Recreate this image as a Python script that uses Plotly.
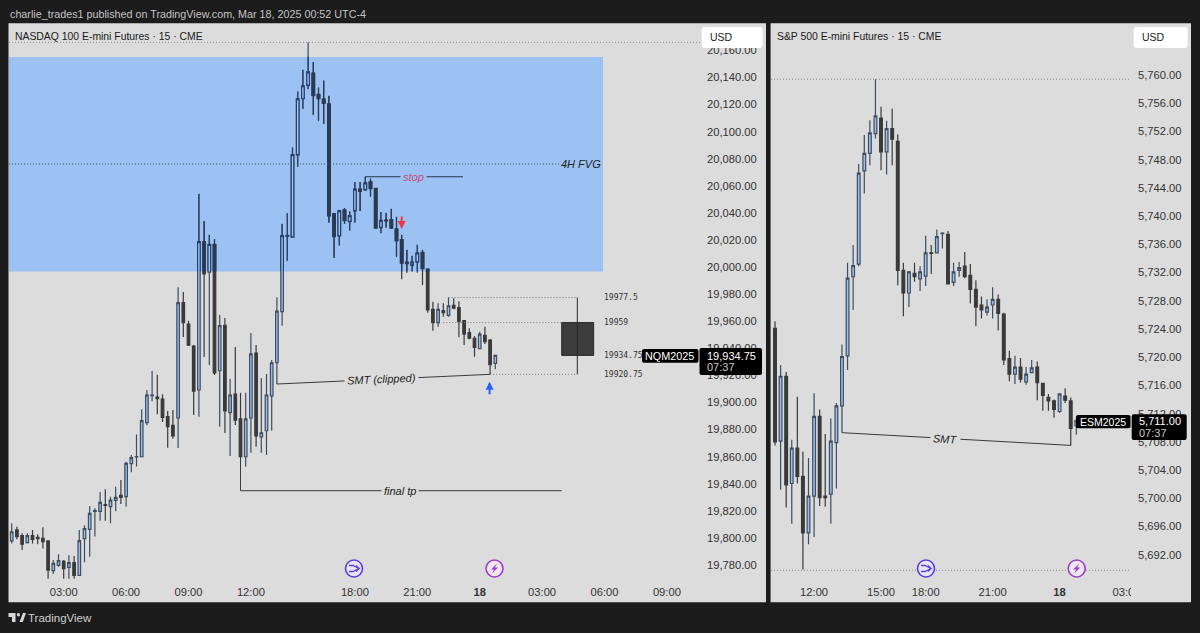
import plotly.graph_objects as go

# NQ 15-minute bars, indexed from the first bar on the chart
nq_open = [
    19797.7, 19805.8, 19801.6, 19796.4, 19801.6, 19800.4, 19799.6, 19797.7, 19775.7, 19779.7,
    19782.6, 19778.2, 19781.7, 19772.3, 19799.4, 19806.3, 19819.6, 19819.6, 19824.5, 19823.0,
    19827.7, 19831.4, 19830.4, 19854.8, 19859.7, 19859.9, 19885.1, 19905.0, 19904.0, 19902.5,
    19889.5, 19883.1, 19888.5, 19973.7, 19957.9, 19941.7, 19909.2, 20018.5, 19996.3, 20016.5,
    19923.4, 19957.0, 19892.4, 19906.2, 19887.8, 19859.9, 19888.5, 19936.5, 19874.5, 19879.1,
    19904.8, 19929.3, 19967.0, 20022.6, 20022.0, 20082.8, 20124.3, 20134.2, 20143.1, 20127.3,
    20123.9, 20120.4, 20039.2, 20023.0, 20042.1, 20033.5, 20041.4, 20057.4, 20056.9, 20062.8,
    20057.9, 20029.1, 20034.5, 20034.8, 20027.9, 20020.0, 20003.5, 20001.3, 20003.7, 20010.6,
    19998.3, 19968.8, 19958.9, 19967.8, 19964.3, 19971.7, 19970.0, 19960.4, 19951.5, 19947.4,
    19939.7, 19949.6, 19946.1, 19928.9,
]
nq_high = [
    19810.7, 19808.2, 19803.3, 19803.3, 19805.8, 19802.6, 19807.8, 19797.7, 19783.6, 19787.8,
    19783.6, 19787.1, 19786.6, 19805.8, 19809.2, 19823.5, 19821.8, 19833.8, 19835.8, 19830.4,
    19837.8, 19842.7, 19856.2, 19861.2, 19876.4, 19894.9, 19909.2, 19923.2, 19920.5, 19906.0,
    19893.7, 19894.4, 19985.0, 19981.6, 19960.4, 19942.5, 20054.0, 20033.8, 20023.7, 20020.5,
    19964.6, 19962.4, 19917.3, 19941.0, 19907.2, 19907.2, 19951.3, 19942.4, 19918.0, 19921.0,
    19931.3, 19977.6, 20031.8, 20039.7, 20088.1, 20129.5, 20145.5, 20166.0, 20151.2, 20132.5,
    20137.6, 20126.3, 20039.7, 20042.1, 20043.4, 20040.9, 20062.6, 20062.6, 20066.7, 20065.2,
    20058.4, 20040.4, 20039.9, 20042.9, 20037.0, 20023.7, 20012.6, 20008.2, 20016.3, 20012.6,
    19998.6, 19974.4, 19973.2, 19973.2, 19977.5, 19976.9, 19974.7, 19960.4, 19954.8, 19949.0,
    19952.2, 19955.9, 19946.9, 19935.2,
]
nq_low = [
    19795.9, 19798.9, 19791.0, 19795.9, 19795.9, 19795.2, 19792.2, 19769.8, 19773.3, 19778.7,
    19769.8, 19769.8, 19769.8, 19772.3, 19781.9, 19786.1, 19800.9, 19812.7, 19812.7, 19810.7,
    19819.6, 19825.0, 19823.0, 19848.4, 19852.6, 19859.5, 19883.1, 19900.8, 19891.2, 19885.6,
    19866.6, 19873.2, 19866.3, 19948.3, 19941.7, 19890.7, 19889.5, 19933.6, 19927.6, 19920.2,
    19882.1, 19877.4, 19860.4, 19883.3, 19859.7, 19852.5, 19862.9, 19867.3, 19862.9, 19861.2,
    19879.1, 19913.6, 19956.7, 20004.5, 20022.0, 20074.1, 20116.7, 20131.3, 20112.3, 20108.1,
    20105.7, 20032.8, 20006.7, 20015.8, 20031.8, 20026.8, 20032.8, 20041.4, 20056.2, 20051.9,
    20028.4, 20024.9, 20029.1, 20028.1, 20007.6, 19990.9, 19995.8, 19996.6, 19995.8, 19986.7,
    19966.3, 19953.0, 19955.9, 19963.3, 19963.3, 19968.8, 19948.1, 19942.4, 19946.6, 19933.8,
    19939.2, 19943.2, 19920.75, 19924.5,
]
nq_close = [
    19804.5, 19800.9, 19795.4, 19801.6, 19798.9, 19799.4, 19797.2, 19776.2, 19781.2, 19783.1,
    19777.2, 19781.7, 19772.3, 19797.9, 19806.8, 19818.1, 19820.1, 19826.2, 19824.0, 19827.9,
    19829.9, 19829.9, 19855.0, 19859.2, 19860.0, 19886.5, 19905.5, 19905.4, 19902.8, 19889.0,
    19882.1, 19875.2, 19973.7, 19958.9, 19942.4, 19908.4, 20018.5, 19994.9, 20016.5, 19921.9,
    19956.7, 19893.7, 19905.5, 19887.0, 19859.9, 19887.8, 19935.8, 19875.2, 19877.6, 19905.5,
    19929.3, 19967.5, 20023.0, 20023.2, 20082.8, 20124.1, 20133.7, 20144.0, 20126.5, 20124.3,
    20120.9, 20037.7, 20022.4, 20041.4, 20034.2, 20037.7, 20057.4, 20055.9, 20061.9, 20057.9,
    20028.8, 20034.2, 20034.0, 20028.8, 20019.4, 20002.8, 20002.5, 20003.5, 20010.2, 19998.8,
    19968.3, 19958.9, 19968.8, 19966.3, 19971.4, 19969.7, 19959.6, 19950.5, 19947.4, 19940.7,
    19950.5, 19944.9, 19927.9, 19934.75,
]

# ES bars cover the same session, starting at bar 39 of the NQ sequence
es_first_bar = 39
es_open = [
    5724.1, 5708.1, 5717.3, 5702.1, 5707.1, 5703.1, 5695.1, 5700.3, 5711.6, 5700.3,
    5700.6, 5707.9, 5713.1, 5720.2, 5731.4, 5733.2, 5746.4, 5748.9, 5751.7, 5753.9,
    5749.1, 5752.4, 5750.6, 5732.3, 5729.1, 5731.9, 5731.1, 5731.5, 5734.8, 5734.8,
    5737.5, 5737.4, 5730.6, 5732.3, 5732.9, 5731.6, 5729.6, 5727.4, 5726.4, 5727.4,
    5728.2, 5726.1, 5719.8, 5717.6, 5718.6, 5716.5, 5717.8, 5718.6, 5716.3, 5714.3,
    5713.8, 5712.3, 5714.5, 5713.8, 5710.25,
]
es_high = [
    5725.1, 5718.9, 5717.9, 5708.3, 5714.4, 5706.6, 5705.7, 5714.9, 5712.6, 5709.1,
    5711.3, 5713.5, 5721.8, 5733.4, 5735.9, 5747.4, 5751.5, 5753.6, 5759.4, 5755.5,
    5753.5, 5755.2, 5751.6, 5733.4, 5732.2, 5733.4, 5732.9, 5737.2, 5735.9, 5738.1,
    5737.7, 5737.9, 5733.4, 5733.5, 5734.9, 5733.2, 5730.9, 5728.6, 5728.2, 5729.9,
    5728.9, 5726.3, 5720.9, 5720.2, 5719.9, 5718.6, 5719.6, 5719.4, 5716.3, 5714.8,
    5714.0, 5714.9, 5715.6, 5714.3, 5711.25,
]
es_low = [
    5707.5, 5701.2, 5698.7, 5696.4, 5702.1, 5689.9, 5693.5, 5694.5, 5698.9, 5698.8,
    5696.4, 5701.4, 5709.3, 5718.2, 5726.7, 5732.9, 5743.2, 5747.2, 5751.0, 5746.5,
    5745.9, 5747.2, 5730.2, 5725.8, 5727.1, 5730.7, 5729.4, 5730.1, 5731.8, 5734.7,
    5735.4, 5730.3, 5730.1, 5731.4, 5731.2, 5727.6, 5724.4, 5725.5, 5725.9, 5725.5,
    5723.8, 5718.9, 5716.6, 5716.2, 5716.4, 5716.1, 5717.8, 5713.9, 5712.4, 5712.4,
    5711.4, 5712.1, 5713.5, 5707.5, 5709.0,
]
es_close = [
    5708.0, 5717.3, 5701.9, 5707.1, 5703.1, 5695.1, 5700.3, 5711.6, 5700.1, 5700.1,
    5708.1, 5713.1, 5720.1, 5731.2, 5733.0, 5746.1, 5748.9, 5751.8, 5754.2, 5749.1,
    5752.4, 5750.9, 5732.3, 5729.1, 5732.1, 5731.4, 5732.1, 5734.8, 5734.7, 5737.1,
    5737.6, 5730.4, 5732.1, 5732.7, 5731.4, 5729.6, 5727.1, 5726.7, 5727.1, 5728.2,
    5726.2, 5719.6, 5717.6, 5718.6, 5716.9, 5717.6, 5718.5, 5716.4, 5714.6, 5713.8,
    5712.6, 5714.8, 5713.9, 5709.9, 5711.0,
]

nq_bars = list(range(len(nq_close)))
es_bars = [es_first_bar + i for i in range(len(es_close))]

nq_time_ticks = [10, 22, 34, 46, 66, 78, 90, 102, 114, 126]
nq_time_labels = ["03:00", "06:00", "09:00", "12:00", "18:00", "21:00", "<b>18</b>", "03:00", "06:00", "09:00"]
es_time_ticks = [46, 58, 66, 78, 90, 102]
es_time_labels = ["12:00", "15:00", "18:00", "21:00", "<b>18</b>", "03:00"]
nq_price_ticks = [19780 + 20 * i for i in range(20)]
es_price_ticks = [5692 + 4 * i for i in range(18)]

# Trade levels and drawings on the NQ pane
fvg_top, fvg_bottom, fvg_mid = 20155.1, 19996.7, 20076.1
stop_price = 20066.7
tp_price = 19834.8
trade_high, trade_entry, trade_last, trade_low = 19977.5, 19959.0, 19934.75, 19920.75
nq_peak = 20166.0
es_peak, es_floor = 5759.4, 5689.8

BG = "#1c1c1c"
PANE = "#dcdcdc"
ZONE = "#9bc2f3"
FONT = "Liberation Sans"
UP_FILL, UP_LINE = "#9dbfe9", "#3d4d63"
DOWN = "#3a3a3a"
UP_FILL_Z, UP_LINE_Z = "#a3c7f5", "#24406b"
DOWN_Z = "#2a3a55"
DOTS = "1px,2px"

W, H = 1200.0, 633.0


def fx(x):
    return x / W


def fy(y):
    return 1 - y / H


def rounded(x0, y0, x1, y1, r=3):
    """Closed path for a rounded box given in page pixels."""
    pts = [
        f"M{fx(x0 + r)},{fy(y0)}", f"L{fx(x1 - r)},{fy(y0)}", f"Q{fx(x1)},{fy(y0)} {fx(x1)},{fy(y0 + r)}",
        f"L{fx(x1)},{fy(y1 - r)}", f"Q{fx(x1)},{fy(y1)} {fx(x1 - r)},{fy(y1)}",
        f"L{fx(x0 + r)},{fy(y1)}", f"Q{fx(x0)},{fy(y1)} {fx(x0)},{fy(y1 - r)}",
        f"L{fx(x0)},{fy(y0 + r)}", f"Q{fx(x0)},{fy(y0)} {fx(x0 + r)},{fy(y0)}", "Z",
    ]
    return " ".join(pts)


def poly(points, closed=True):
    head = "M" + " L".join(f"{fx(x)},{fy(y)}" for x, y in points)
    return head + (" Z" if closed else "")


def box(x0, y0, x1, y1, color, layer="below"):
    return dict(type="rect", xref="paper", yref="paper", x0=fx(x0), x1=fx(x1), y0=fy(y0), y1=fy(y1),
                fillcolor=color, line_width=0, layer=layer)


def path(d, fill=None, line=None, width=1.0, layer="above"):
    return dict(type="path", xref="paper", yref="paper", path=d,
                fillcolor=fill or "rgba(0,0,0,0)", line=dict(color=line or "rgba(0,0,0,0)", width=width), layer=layer)


def seg(xref, yref, x0, y0, x1, y1, color="#3a3a3a", width=1.0, dash="solid", layer="above"):
    return dict(type="line", xref=xref, yref=yref, x0=x0, y0=y0, x1=x1, y1=y1,
                line=dict(color=color, width=width, dash=dash), layer=layer)


def text(x, y, s, size=11, color="#2a2a2a", anchor="left", font=FONT):
    return dict(xref="paper", yref="paper", x=fx(x), y=fy(y), text=s, showarrow=False, xanchor=anchor,
                yanchor="middle", font=dict(family=font, size=size, color=color))


def candles(x, o, h, l, c, xaxis, yaxis, up_fill, up_line, down):
    return go.Candlestick(
        x=x, open=o, high=h, low=l, close=c, xaxis=xaxis, yaxis=yaxis, whiskerwidth=0,
        increasing=dict(fillcolor=up_fill, line=dict(color=up_line, width=1.2)),
        decreasing=dict(fillcolor=down, line=dict(color=down, width=1.2)),
        showlegend=False, hoverinfo="skip",
    )


fig = go.Figure()
fig.add_trace(candles(nq_bars, nq_open, nq_high, nq_low, nq_close, "x", "y", UP_FILL, UP_LINE, DOWN))
fig.add_trace(candles(es_bars, es_open, es_high, es_low, es_close, "x2", "y2", UP_FILL, UP_LINE, DOWN))
# Second NQ layer clipped to the FVG band, so candles read darker and bluer inside it
fig.add_trace(candles(nq_bars, nq_open, nq_high, nq_low, nq_close, "x3", "y3", UP_FILL_Z, UP_LINE_Z, DOWN_Z))

nq_xrange = [-0.52, 132.75]
es_xrange = [38.28, 102.8]
axis_common = dict(showgrid=False, zeroline=False, showline=False)
tick_font = dict(family=FONT, size=11.2, color="#333333")

fig.update_layout(
    width=1200, height=633, margin=dict(l=0, r=0, t=0, b=0, autoexpand=False), autosize=False,
    paper_bgcolor=BG, plot_bgcolor="rgba(0,0,0,0)", showlegend=False, hovermode=False,
    xaxis=dict(domain=[fx(9), fx(702)], range=nq_xrange, anchor="free", position=fy(584), tickmode="array",
               tickvals=nq_time_ticks, ticktext=nq_time_labels, ticks="", tickfont=tick_font,
               rangeslider=dict(visible=False), **axis_common),
    yaxis=dict(domain=[fy(602), fy(23)], range=[19752.6, 20180.25], anchor="x", side="right", tickmode="array",
               tickvals=nq_price_ticks + [20160], ticktext=[f"{v:,.2f}" for v in nq_price_ticks + [20160]],
               ticks="", tickfont=tick_font, ticklabelstandoff=4, **axis_common),
    xaxis2=dict(domain=[fx(771), fx(1131)], range=es_xrange, anchor="free", position=fy(584), tickmode="array",
                tickvals=es_time_ticks, ticktext=es_time_labels, ticks="", tickfont=tick_font,
                rangeslider=dict(visible=False), **axis_common),
    yaxis2=dict(domain=[fy(602), fy(23)], range=[5685.3, 5767.37], anchor="x2", side="right", tickmode="array",
                tickvals=es_price_ticks, ticktext=[f"{v:,.2f}" for v in es_price_ticks],
                ticks="", tickfont=tick_font, ticklabelstandoff=6, **axis_common),
    xaxis3=dict(domain=[fx(9), fx(702)], range=nq_xrange, anchor="y3", visible=False,
                rangeslider=dict(visible=False), **axis_common),
    yaxis3=dict(domain=[fy(271.2), fy(56.8)], range=[fvg_bottom, fvg_top], anchor="x3", visible=False, **axis_common),
)

shapes = [
    box(8.5, 23.3, 766, 602.3, PANE),
    box(771, 23.3, 1191, 602.3, PANE),
    seg("paper", "paper", fx(770.5), fy(23.3), fx(770.5), fy(602.3), color="#6a6a6a", width=1, layer="below"),
    dict(type="rect", xref="x", yref="y", x0=-3, x1=113.7, y0=fvg_bottom, y1=fvg_top, fillcolor=ZONE, line_width=0, layer="below"),
    seg("x", "y", -0.52, nq_peak, 132.75, nq_peak, color="#8a8a8a", dash=DOTS),
    seg("x", "y", -0.52, fvg_mid, 113.7, fvg_mid, color="#3a4a62", dash=DOTS),
    seg("x2", "y2", 38.28, es_peak, 102.8, es_peak, color="#8a8a8a", dash=DOTS),
    seg("x2", "y2", 38.28, es_floor, 102.8, es_floor, color="#8a8a8a", dash=DOTS),
    # stop, final target and SMT connectors
    seg("x", "y", 68, stop_price, 86.8, stop_price, color="#263650"),
    seg("x", "y", 44, 19859.7, 44, tp_price),
    seg("x", "y", 44, tp_price, 105.77, tp_price),
    seg("x", "y", 51, 19913.6, 92, 19920.75),
    seg("x2", "y2", 51, 5709.3, 92, 5707.5),
    # projected trade box
    seg("x", "y", 84, trade_high, 108.77, trade_high, color="#777777", dash=DOTS),
    seg("x", "y", 83, trade_entry, 105.77, trade_entry, color="#777777", dash=DOTS),
    seg("x", "y", 92, trade_low, 108.77, trade_low, color="#777777", dash=DOTS),
    dict(type="rect", xref="x", yref="y", x0=105.77, x1=111.92, y0=trade_last, y1=trade_entry,
         fillcolor="#3c3c3c", line=dict(color="#2a2a2a", width=1), layer="above"),
    seg("x", "y", 108.77, trade_low, 108.77, trade_high, color="#2a2a2a"),
    # clips the label running off the right edge of the ES time axis
    box(1131, 584, 1191, 601.5, PANE, layer="above"),
    # currency buttons
    path(rounded(701.7, 27, 762.7, 48, 3), fill="#ffffff"),
    path(rounded(1133.7, 27, 1187.7, 48, 3), fill="#ffffff"),
    # last-price tags
    path(rounded(642, 349, 698.5, 362.7, 2), fill="#000000"),
    path(rounded(699.5, 348, 762, 375, 2), fill="#000000"),
    path(rounded(1076, 415, 1130.5, 428.3, 2), fill="#000000"),
    path(rounded(1131.7, 414.3, 1186.7, 440, 2), fill="#000000"),
    # logo mark in the footer
    path(poly([(8.5, 613), (15.5, 613), (15.5, 622), (12, 622), (12, 617), (8.5, 617)]), fill="#d8d8d8"),
    path(poly([(19.5, 622), (23, 613), (26, 613), (22.8, 622)]), fill="#d8d8d8"),
    dict(type="circle", xref="paper", yref="paper", x0=fx(16.8), x1=fx(20), y0=fy(616.5), y1=fy(613),
         fillcolor="#d8d8d8", line_width=0, layer="above"),
]

# Session and news markers on the time axes
MERGE, BOLT = "#5b3fe0", "#9c3fc8"
for cx, cy in ((354, 568.5), (926, 568.5)):
    shapes.append(dict(type="circle", xref="paper", yref="paper", x0=fx(cx - 8.5), x1=fx(cx + 8.5),
                       y0=fy(cy + 8.5), y1=fy(cy - 8.5), fillcolor="#e8e6f4", line=dict(color=MERGE, width=1.6), layer="above"))
    shapes.append(path(poly([(cx - 5, cy - 3), (cx - 1, cy - 3), (cx + 5, cy), (cx - 1, cy + 3), (cx - 5, cy + 3)], closed=False), line=MERGE, width=1.3))
    shapes.append(path(poly([(cx + 2, cy - 3), (cx + 5, cy), (cx + 2, cy + 3)], closed=False), line=MERGE, width=1.3))
for cx, cy in ((494.5, 568.5), (1076.7, 568.5)):
    shapes.append(dict(type="circle", xref="paper", yref="paper", x0=fx(cx - 8.5), x1=fx(cx + 8.5),
                       y0=fy(cy + 8.5), y1=fy(cy - 8.5), fillcolor="#f0e6f2", line=dict(color=BOLT, width=1.6), layer="above"))
    shapes.append(path(poly([(cx + 2.5, cy - 5), (cx - 3.5, cy + 1), (cx - 0.5, cy + 1), (cx - 2.5, cy + 5),
                             (cx + 3.5, cy - 1), (cx + 0.5, cy - 1)]), fill=BOLT))

mono = "DejaVu Sans Mono"
annotations = [
    text(7.5, 13.5, "charlie_trades1 published on TradingView.com, Mar 18, 2025 00:52 UTC-4", size=10.75, color="#c4c4c4"),
    text(12.5, 36.5, "NASDAQ 100 E-mini Futures · 15 · CME", size=10.4, color="#1a1a1a"),
    text(775, 36.5, "S&P 500 E-mini Futures · 15 · CME", size=10.4, color="#1a1a1a"),
    text(26, 618, "TradingView", size=11.5, color="#cfcfcf"),
    text(707.5, 37, "USD", size=10.5, color="#222222"),
    text(1139.5, 37, "USD", size=10.5, color="#222222"),
    text(643, 356, "NQM2025", size=10.8, color="#ffffff"),
    text(705, 355.5, "19,934.75", size=11, color="#ffffff"),
    text(705, 367, "07:37", size=11, color="#c8c8c8"),
    text(1077.5, 421.7, "ESM2025", size=10.5, color="#ffffff"),
    text(1136.5, 421, "5,711.00", size=11, color="#ffffff"),
    text(1136.5, 433, "07:37", size=11, color="#c8c8c8"),
]
for price, label in ((trade_high, "19977.5"), (trade_entry, "19959"), (trade_last, "19934.75"), (trade_low, "19920.75")):
    annotations.append(dict(xref="x", yref="y", x=113.5, y=price, text=label, showarrow=False, xanchor="left",
                            yanchor="middle", font=dict(family=mono, size=8, color="#333333")))
note_font = dict(family=FONT, size=11, color="#222222")
annotations += [
    dict(xref="x", yref="y", x=109.5, y=fvg_mid, text="<i>4H FVG</i>", showarrow=False, bgcolor=ZONE, font=note_font),
    dict(xref="x", yref="y", x=77.3, y=stop_price, text="<i>stop</i>", showarrow=False, bgcolor=ZONE,
         borderpad=2, font=dict(family=FONT, size=11, color="#c9497a")),
    dict(xref="x", yref="y", x=71.2, y=19917.1, text="<i>SMT (clipped)</i>", showarrow=False, bgcolor=PANE,
         borderpad=2, textangle=-2.5, font=note_font),
    dict(xref="x", yref="y", x=74.7, y=tp_price, text="<i>final tp</i>", showarrow=False, bgcolor=PANE,
         borderpad=2, font=note_font),
    dict(xref="x2", yref="y2", x=69.5, y=5708.45, text="<i>SMT</i>", showarrow=False, bgcolor=PANE,
         borderpad=2, textangle=3.4, font=note_font),
    dict(xref="x", yref="y", x=75, y=20028.1, text="", showarrow=True, ax=0, ay=-14, arrowcolor="#f23645",
         arrowwidth=2, arrowhead=2, arrowsize=0.8),
    dict(xref="x", yref="y", x=91.9, y=19915.3, text="", showarrow=True, ax=0, ay=14, arrowcolor="#2962ff",
         arrowwidth=2, arrowhead=2, arrowsize=0.8),
]

fig.update_layout(shapes=shapes, annotations=annotations)
# Fixed-size page: no responsive resize and no scrollbar taking width from the plot
fig.write_html(
    "out.html",
    config={"responsive": False, "displayModeBar": False},
    post_script="document.documentElement.style.overflow='hidden';document.body.style.overflow='hidden';",
)
